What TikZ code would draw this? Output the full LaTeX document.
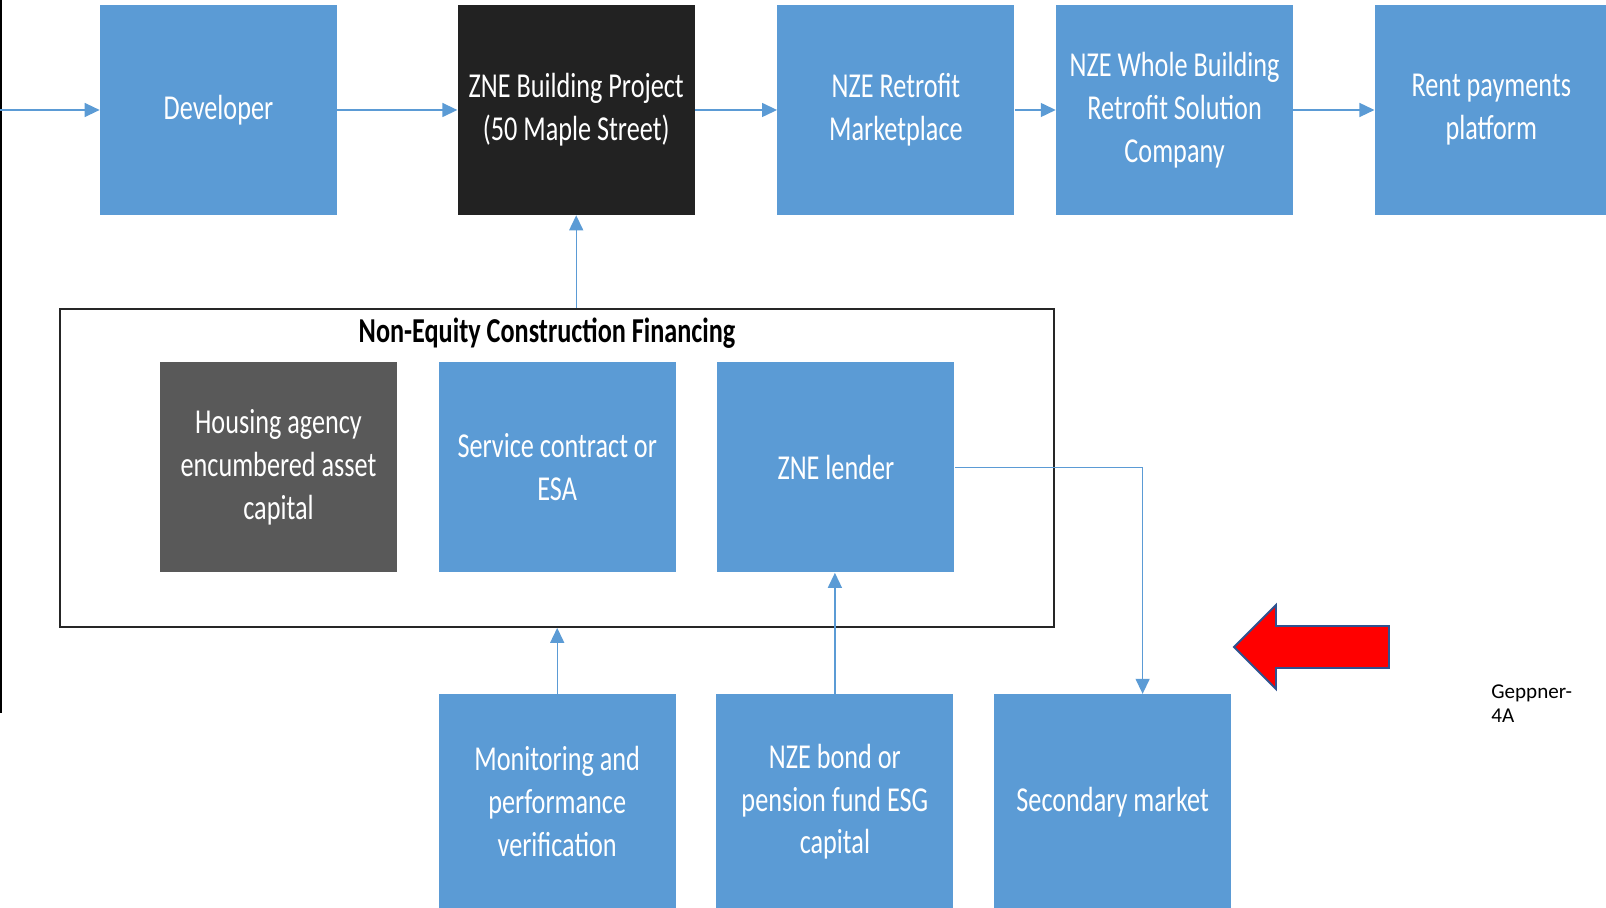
\documentclass[tikz,border=0pt]{standalone}
\usepackage{fontspec}
\newfontfamily\boxfont[FakeStretch=0.75]{Carlito}
\newfontfamily\notefont{Carlito}
\usepackage{xcolor}
\definecolor{colorBox}{HTML}{5B9BD5}
\definecolor{colorProject}{HTML}{222222}
\definecolor{colorAgency}{HTML}{595959}
\definecolor{colorLink}{HTML}{5B9BD5}
\definecolor{colorFlag}{HTML}{FF0000}
\definecolor{colorFlagBorder}{HTML}{2F528F}
\usetikzlibrary{arrows.meta, positioning}
\tikzset{
  block/.style={fill=colorBox, text=white, minimum width=4.74cm, minimum height=4.2cm, inner sep=2pt, align=center, font=\boxfont\fontsize{19.9}{24.4}\selectfont},
  frame/.style={draw=black!85, line width=1pt, minimum width=19.88cm, minimum height=6.36cm, inner sep=0pt},
  heading/.style={inner sep=0pt, font=\boxfont\bfseries\fontsize{19.9}{24.4}\selectfont},
  note/.style={inner sep=0pt, align=left, font=\notefont\fontsize{12}{13.7}\selectfont},
  link/.style={->, colorLink, line width=0.8pt},
  flag/.style={fill=colorFlag, draw=colorFlagBorder, line width=1.1pt}
}

\begin{document}
\begin{tikzpicture}[>={Triangle[length=0.3cm, width=0.28cm]}, node distance=0.82cm]
\useasboundingbox (0,0) rectangle (32.12,18.16);
\draw[black, line width=1pt] (0.02,18.16) -- (0.02,3.9);
\node[block] (n11) at (4.37,15.96) {Developer};
\node[block, fill=colorProject, right=2.4cm of n11] (n12) {ZNE Building Project\\(50 Maple Street)};
\node[block, right=1.64cm of n12] (n13) {NZE Retrofit\\Marketplace};
\node[block, right=0.82cm of n13] (n14) {NZE Whole Building\\Retrofit Solution\\Company};
\node[block, right=1.62cm of n14, minimum width=4.66cm] (n15) {Rent payments\\platform};
\node[frame] (f1) at (11.14,8.80) {};
\node[heading] (t1) at (10.94,11.50) {Non-Equity Construction Financing};
\node[block, fill=colorAgency] (n21) at (5.57,8.81) {Housing agency\\encumbered asset\\capital};
\node[block, right=of n21] (n22) {Service contract or\\ESA};
\node[block, right=of n22] (n23) {ZNE lender};
\node[block, below=2.42cm of n22, minimum height=4.3cm] (n31) {Monitoring and\\performance\\verification};
\node[block, right=0.8cm of n31, minimum height=4.3cm] (n32) {NZE bond or\\pension fund ESG\\capital};
\node[block, right=0.8cm of n32, minimum height=4.3cm] (n33) {Secondary market};
\node[note, anchor=north west] (g1) at (29.82,4.48) {Geppner-\\4A};
\coordinate (in) at (0,15.96);
\draw[link] (in) -- (n11);
\draw[link] (n11) -- (n12);
\draw[link] (n12) -- (n13);
\draw[link] (n13) -- (n14);
\draw[link] (n14) -- (n15);
\draw[link] (n12 |- f1.north) -- (n12.south);
\draw[link] (n31.north) -- (n31 |- f1.south);
\draw[link] (n32.north) -- (n32 |- n23.south);
\draw[link] (n23.east) -| ([xshift=0.6cm]n33.north);
\draw[flag] (24.68,5.22) -- ++(0.84,0.84) -- ++(0,-0.42) -- ++(2.26,0) -- ++(0,-0.84) -- ++(-2.26,0) -- ++(0,-0.42) -- cycle;
\end{tikzpicture}
\end{document}
